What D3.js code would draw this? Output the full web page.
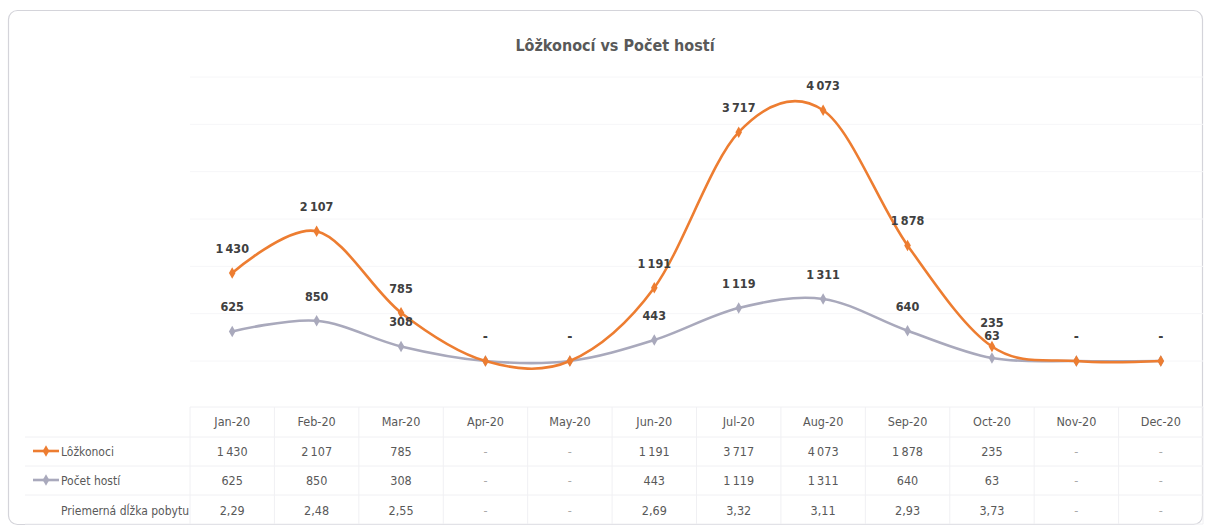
<!DOCTYPE html>
<html>
<head>
<meta charset="utf-8">
<script src="https://cdn.jsdelivr.net/npm/d3@7"></script>
<style>
  body { margin: 0; background: #fff; }
  svg text { font-family: "DejaVu Sans Condensed", "Liberation Sans Narrow", "Roboto", sans-serif; }
</style>
</head>
<body>
<div id="chart"></div>
<script>
const months = ['Jan-20', 'Feb-20', 'Mar-20', 'Apr-20', 'May-20', 'Jun-20', 'Jul-20', 'Aug-20', 'Sep-20', 'Oct-20', 'Nov-20', 'Dec-20']
const lozkonoci = [1430, 2107, 785, 0, 0, 1191, 3717, 4073, 1878, 235, 0, 0]
const pocetHosti = [625, 850, 308, 0, 0, 443, 1119, 1311, 640, 63, 0, 0]
const dlzkaPobytu = [2.29, 2.48, 2.55, 0, 0, 2.69, 3.32, 3.11, 2.93, 3.73, 0, 0]

const width = 1207
const height = 531
const orange = '#ed7d31'
const grey = '#a9a9bc'
const textColor = '#595959'

const svg = d3.select('#chart')
  .append('svg')
  .attr('width', width)
  .attr('height', height)

// frame
svg.append('rect')
  .attr('x', 8.5).attr('y', 10.5)
  .attr('width', 1194).attr('height', 514)
  .attr('rx', 9)
  .attr('fill', 'none')
  .attr('stroke', '#d4d4da')
  .attr('stroke-width', 1.2)

svg.append('text')
  .attr('x', 615).attr('y', 51)
  .attr('text-anchor', 'middle')
  .attr('font-size', 16)
  .attr('font-weight', 'bold')
  .attr('fill', '#595959')
  .text('Lôžkonocí vs Počet hostí')

// X
const x = d3.scaleBand()
  .domain(months)
  .range([190, 1203])

const cx = m => x(m) + x.bandwidth() / 2

// Y: orange on primary, grey on secondary
const yL = d3.scaleLinear().domain([0, 4500]).range([361, 84])
const yR = d3.scaleLinear().domain([0, 6000]).range([361, 77])

svg.append('g')
  .selectAll('line')
  .data(yR.ticks(6))
  .join('line')
  .attr('x1', 190).attr('x2', 1203)
  .attr('y1', d => yR(d)).attr('y2', d => yR(d))
  .attr('stroke', '#f6f6f8')

const fmt = v => v === 0 ? '-' : d3.format(',')(v).replace(/,/g, '\u2009')

const series = [
  { name: 'Lôžkonoci', values: lozkonoci, y: yL, color: orange },
  { name: 'Počet hostí', values: pocetHosti, y: yR, color: grey }
]

const line = s => d3.line()
  .x((d, i) => cx(months[i]))
  .y(d => s.y(d))
  .curve(d3.curveCardinal.tension(0))

// grey drawn first so orange sits on top
series.slice().reverse().forEach(s => {
  const g = svg.append('g')
  g.append('path')
    .datum(s.values)
    .attr('d', line(s))
    .attr('fill', 'none')
    .attr('stroke', s.color)
    .attr('stroke-width', 2.6)
  g.selectAll('path.mk')
    .data(s.values)
    .join('path')
    .attr('class', 'mk')
    .attr('d', d3.symbol(d3.symbolDiamond, 38))
    .attr('transform', (d, i) => `translate(${cx(months[i])},${s.y(d)})`)
    .attr('fill', s.color)
})

series.forEach((s, si) => {
  svg.append('g')
    .selectAll('text')
    .data(s.values)
    .join('text')
    .attr('x', (d, i) => cx(months[i]))
    .attr('y', d => s.y(d) - (si === 1 && d < 100 && d > 0 ? 18 : 20))
    .attr('text-anchor', 'middle')
    .attr('font-size', 12.5)
    .attr('font-weight', 'bold')
    .attr('fill', '#404040')
    .text(fmt)
})

// data table
const rowY = [421, 451, 480, 510]
const lines = [407, 437, 466, 495, 524]
const table = svg.append('g')
table.selectAll('line.h')
  .data(lines)
  .join('line')
  .attr('class', 'h')
  .attr('x1', (d, i) => i === 0 ? 190 : 25).attr('x2', 1203)
  .attr('y1', d => d).attr('y2', d => d)
  .attr('stroke', '#f0f0f3')
table.selectAll('line.v')
  .data([190, ...months.map(m => x(m) + x.bandwidth())])
  .join('line')
  .attr('class', 'v')
  .attr('x1', d => d).attr('x2', d => d)
  .attr('y1', 407).attr('y2', 524)
  .attr('stroke', '#f0f0f3')

table.selectAll('text.month')
  .data(months)
  .join('text')
  .attr('class', 'month')
  .attr('x', cx)
  .attr('y', rowY[0] + 5)
  .attr('text-anchor', 'middle')
  .attr('font-size', 12.5)
  .attr('fill', textColor)
  .text(d => d)

const rows = [
  { name: 'Lôžkonoci', values: lozkonoci, color: orange, f: fmt },
  { name: 'Počet hostí', values: pocetHosti, color: grey, f: fmt },
  { name: 'Priemerná dĺžka pobytu', values: dlzkaPobytu, color: null, f: v => v === 0 ? '-' : d3.format('.2f')(v).replace('.', ',') }
]

rows.forEach((r, ri) => {
  const yy = rowY[ri + 1]
  if (r.color) {
    table.append('line')
      .attr('x1', 33).attr('x2', 59)
      .attr('y1', yy).attr('y2', yy)
      .attr('stroke', r.color).attr('stroke-width', 2.6)
    table.append('path')
      .attr('d', d3.symbol(d3.symbolDiamond, 38))
      .attr('transform', `translate(46,${yy})`)
      .attr('fill', r.color)
  }
  table.append('text')
    .attr('x', 61).attr('y', yy + 5)
    .attr('font-size', 12)
    .attr('fill', textColor)
    .text(r.name)
  table.selectAll(null)
    .data(r.values)
    .join('text')
    .attr('x', (d, i) => cx(months[i]))
    .attr('y', yy + 5)
    .attr('text-anchor', 'middle')
    .attr('font-size', 12.5)
    .attr('fill', d => d === 0 ? '#aaa' : textColor)
    .text(r.f)
})
</script>
</body>
</html>
